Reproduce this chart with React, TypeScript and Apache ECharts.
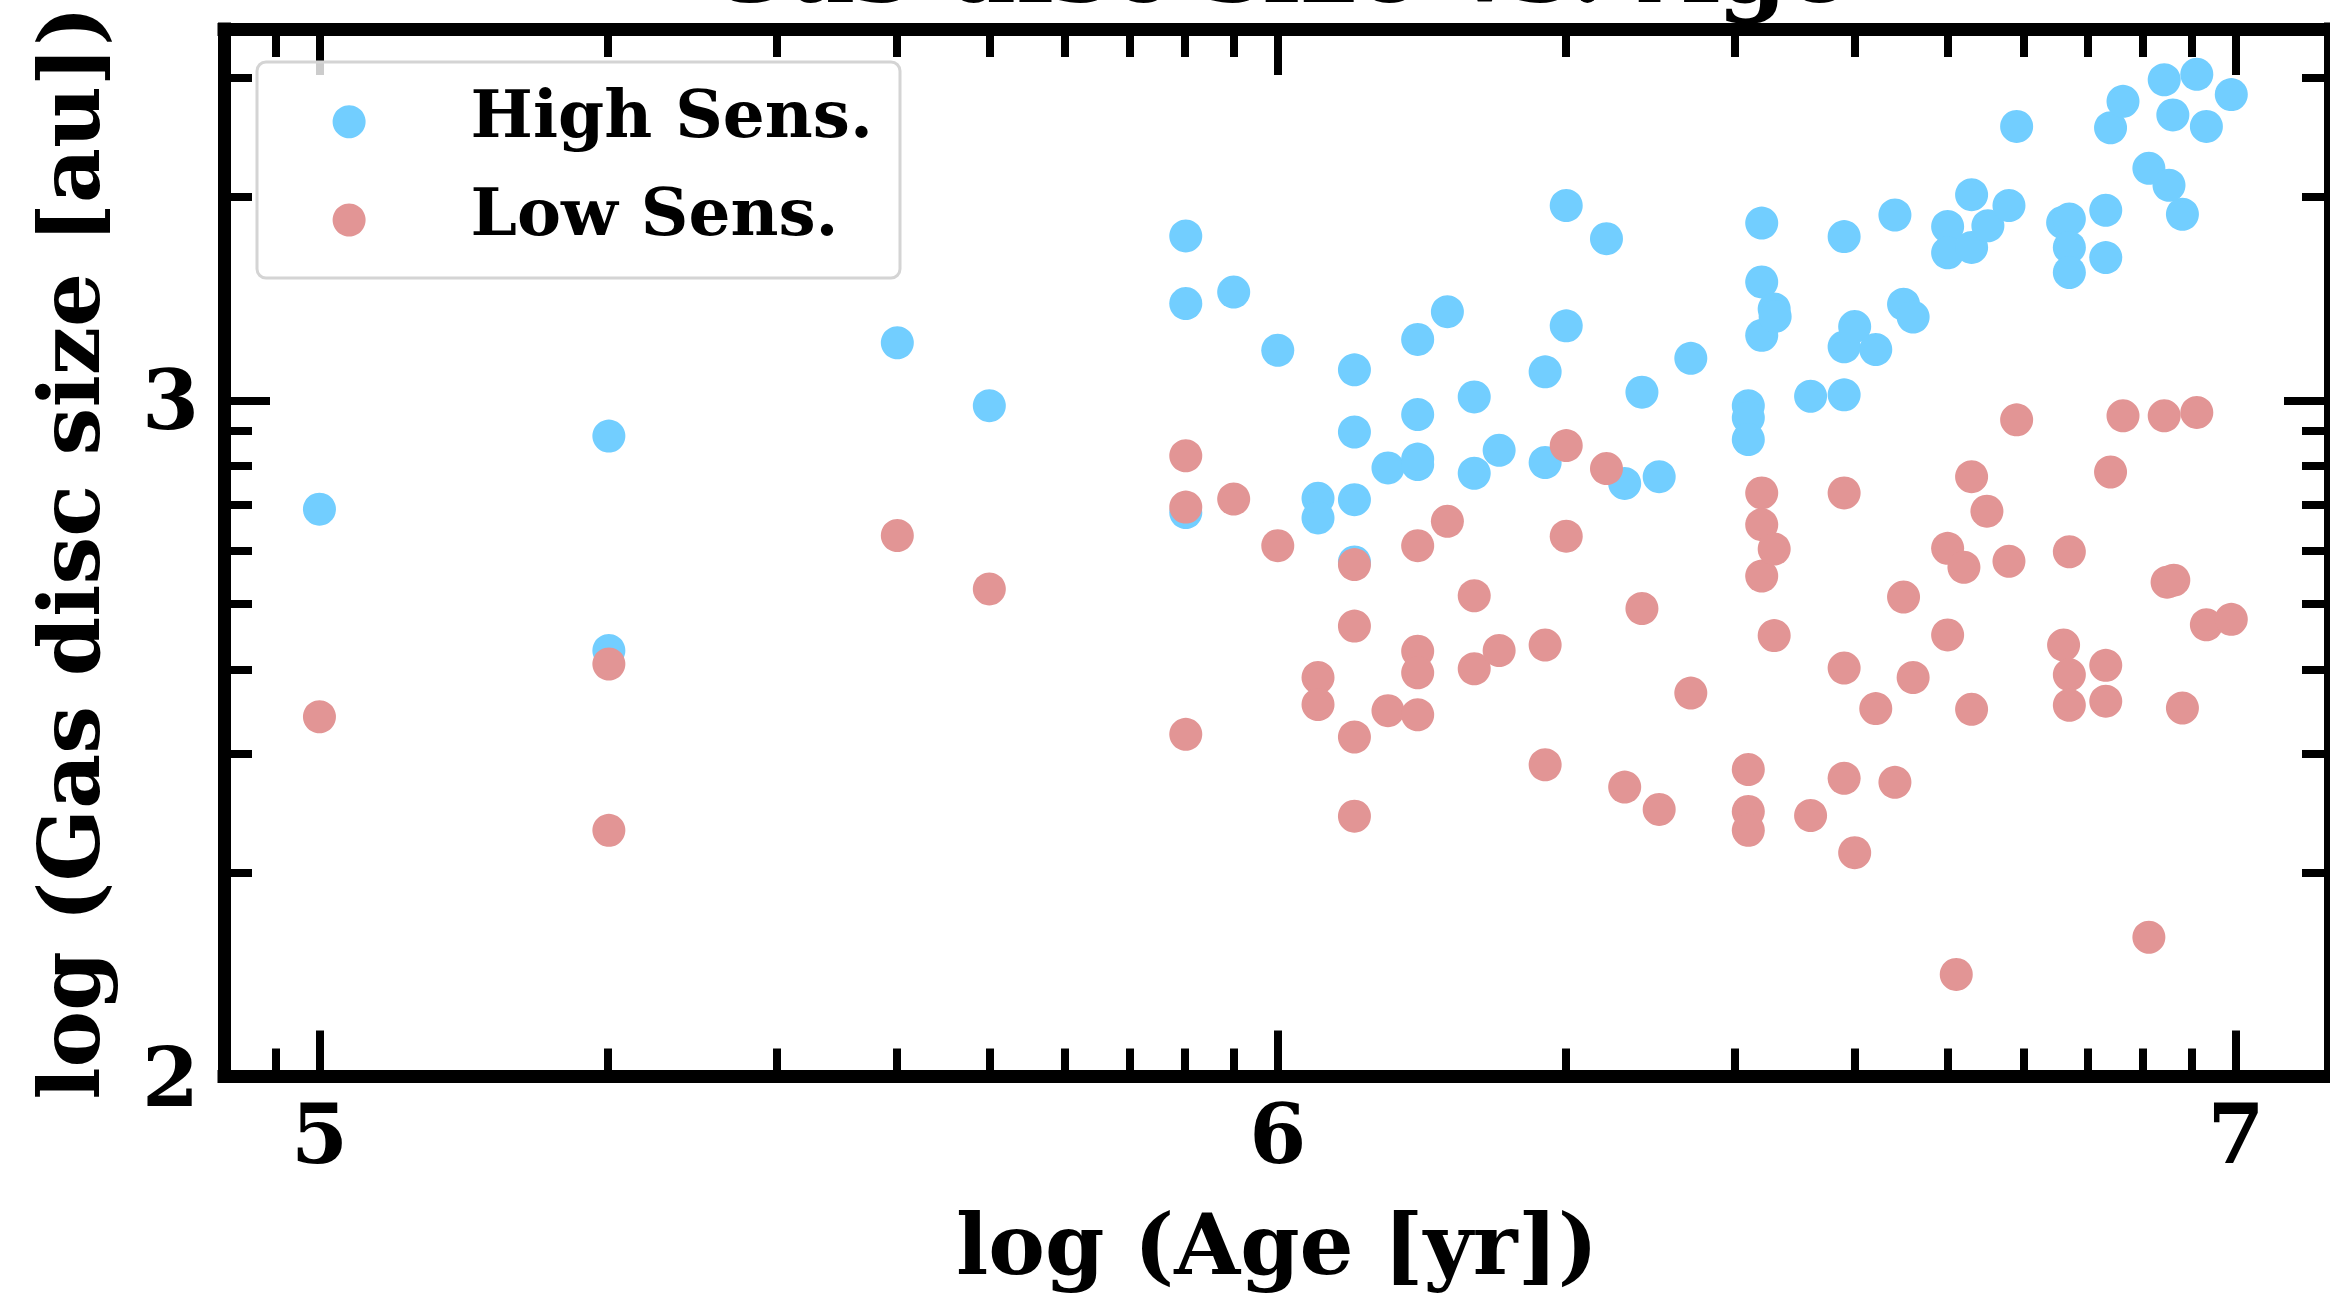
import React, { useEffect, useRef } from "react";
import * as echarts from "echarts";

// log10(Age [yr]), log10(Gas disc size [au])
const highSens: [number, number][] = [
  [5.0, 2.839], [5.302, 2.947], [5.302, 2.63], [5.603, 3.085], [5.699, 2.992],
  [5.904, 3.243], [5.904, 3.143], [5.904, 2.834], [5.954, 3.16], [6.0, 3.074],
  [6.042, 2.855], [6.042, 2.826], [6.08, 3.045], [6.08, 2.953], [6.08, 2.853],
  [6.08, 2.761], [6.115, 2.9], [6.146, 3.09], [6.146, 2.979], [6.146, 2.913],
  [6.146, 2.905], [6.177, 3.131], [6.205, 3.005], [6.205, 2.892], [6.231, 2.926],
  [6.279, 3.042], [6.279, 2.908], [6.301, 3.288], [6.301, 3.11], [6.343, 3.239],
  [6.362, 2.877], [6.38, 3.012], [6.398, 2.887], [6.431, 3.062], [6.491, 2.992],
  [6.491, 2.974], [6.491, 2.942], [6.505, 3.262], [6.505, 3.175], [6.505, 3.096],
  [6.518, 3.135], [6.519, 3.124], [6.556, 3.006], [6.591, 3.242], [6.591, 3.079],
  [6.591, 3.008], [6.602, 3.109], [6.624, 3.075], [6.644, 3.274], [6.653, 3.142],
  [6.663, 3.123], [6.699, 3.257], [6.699, 3.218], [6.724, 3.304], [6.724, 3.226],
  [6.741, 3.258], [6.763, 3.288], [6.771, 3.405], [6.819, 3.263], [6.826, 3.268],
  [6.826, 3.226], [6.826, 3.189], [6.864, 3.281], [6.864, 3.211], [6.869, 3.403],
  [6.882, 3.442], [6.909, 3.343], [6.93, 3.318], [6.944, 3.275], [6.925, 3.474],
  [6.959, 3.482], [6.934, 3.422], [6.969, 3.405], [6.995, 3.452],
];

const lowSens: [number, number][] = [
  [5.0, 2.532], [5.302, 2.61], [5.302, 2.364], [5.603, 2.8], [5.699, 2.721],
  [5.904, 2.918], [5.904, 2.842], [5.904, 2.506], [5.954, 2.854], [6.0, 2.785],
  [6.042, 2.59], [6.042, 2.55], [6.08, 2.757], [6.08, 2.666], [6.08, 2.502],
  [6.08, 2.385], [6.115, 2.541], [6.146, 2.785], [6.146, 2.629], [6.146, 2.597],
  [6.146, 2.535], [6.177, 2.821], [6.205, 2.711], [6.205, 2.603], [6.231, 2.63],
  [6.279, 2.638], [6.279, 2.461], [6.301, 2.933], [6.301, 2.799], [6.343, 2.899],
  [6.362, 2.428], [6.38, 2.692], [6.398, 2.395], [6.431, 2.567], [6.491, 2.454],
  [6.491, 2.392], [6.491, 2.364], [6.505, 2.863], [6.505, 2.816], [6.505, 2.74],
  [6.518, 2.78], [6.518, 2.652], [6.556, 2.386], [6.591, 2.863], [6.591, 2.604],
  [6.591, 2.441], [6.602, 2.331], [6.624, 2.544], [6.644, 2.435], [6.653, 2.709],
  [6.663, 2.59], [6.699, 2.781], [6.699, 2.653], [6.708, 2.151], [6.716, 2.753],
  [6.724, 2.887], [6.724, 2.543], [6.74, 2.836], [6.763, 2.762], [6.771, 2.971],
  [6.82, 2.638], [6.826, 2.776], [6.826, 2.594], [6.826, 2.549], [6.864, 2.608],
  [6.864, 2.555], [6.869, 2.894], [6.882, 2.977], [6.909, 2.206], [6.925, 2.977],
  [6.928, 2.731], [6.935, 2.734], [6.944, 2.545], [6.959, 2.982], [6.969, 2.668],
  [6.995, 2.676],
];

const seriesNames = ["High Sens.", "Low Sens."];
const titleText = "Gas disc size vs. Age";
const xName = "log (Age [yr])";
const yName = "log (Gas disc size [au])";

const xMajorTicks = [5, 6, 7];
const yMajorTicks = [2, 3];
const xDecades = [4, 5, 6, 7];
const yDecades = [2, 3];
const minorMultipliers = [2, 3, 4, 5, 6, 7, 8, 9];

const X_MIN = 4.9004;
const X_MAX = 7.098;
const Y_MIN = 2.0;
const Y_MAX = 3.549;

const FONT = "DejaVu Serif";
const BLUE = "#72CEFF";
const PINK = "#E29595";

function minorTicks(decades: number[], lo: number, hi: number): number[] {
  const out: number[] = [];
  decades.forEach((d) =>
    minorMultipliers.forEach((m) => {
      const v = d + Math.log10(m);
      if (v > lo && v < hi) out.push(v);
    })
  );
  return out;
}

const xMinorTicks = minorTicks(xDecades, X_MIN, X_MAX);
const yMinorTicks = minorTicks(yDecades, Y_MIN, Y_MAX);

const SPINE_W = 13;
const TICK_W = 8;
const MAJOR_LEN = 46;
const MINOR_LEN = 28;

function axis(
  position: string,
  min: number,
  max: number,
  ticks: number[],
  len: number,
  opts: { line?: boolean; labels?: boolean; labelMargin?: number; name?: string; nameGap?: number }
) {
  return {
    type: "value",
    position,
    min,
    max,
    splitLine: { show: false },
    axisLine: {
      show: !!opts.line,
      onZero: false,
      lineStyle: { color: "#000", width: SPINE_W, cap: "square" },
    },
    axisTick: {
      show: true,
      inside: true,
      length: len,
      customValues: ticks,
      lineStyle: { color: "#000", width: TICK_W },
    },
    axisLabel: opts.labels
      ? {
          show: true,
          customValues: ticks,
          margin: opts.labelMargin,
          fontFamily: FONT,
          fontWeight: "bold",
          fontSize: 82,
          color: "#000",
        }
      : { show: false },
    name: opts.name,
    nameLocation: "middle",
    nameGap: opts.nameGap,
    nameTextStyle: { fontFamily: FONT, fontWeight: "bold", fontSize: 85, color: "#000" },
  };
}

export default function App() {
  const ref = useRef<HTMLDivElement>(null);
  useEffect(() => {
    if (!ref.current) return;
    const chart = echarts.init(ref.current, undefined, { renderer: "svg" });
    chart.setOption({
      animation: false,
      backgroundColor: "#fff",
      grid: { left: 224, right: -1.5, top: 29, bottom: 216.5, containLabel: false },
      xAxis: [
        axis("bottom", X_MIN, X_MAX, xMajorTicks, MAJOR_LEN, { line: true, labels: true, labelMargin: 16, name: xName, nameGap: 125 }),
        axis("bottom", X_MIN, X_MAX, xMinorTicks, MINOR_LEN, {}),
        axis("top", X_MIN, X_MAX, xMajorTicks, MAJOR_LEN, { line: true }),
        axis("top", X_MIN, X_MAX, xMinorTicks, MINOR_LEN, {}),
      ],
      yAxis: [
        axis("left", Y_MIN, Y_MAX, yMajorTicks, MAJOR_LEN, { line: true, labels: true, labelMargin: 25, name: yName, nameGap: 113 }),
        axis("left", Y_MIN, Y_MAX, yMinorTicks, MINOR_LEN, {}),
        axis("right", Y_MIN, Y_MAX, yMajorTicks, MAJOR_LEN, { line: true }),
        axis("right", Y_MIN, Y_MAX, yMinorTicks, MINOR_LEN, {}),
      ],
      legend: {
        orient: "vertical",
        left: 332.6,
        top: 80.7,
        padding: 0,
        itemGap: 16.3,
        itemWidth: 233,
        itemHeight: 33,
        icon: "circle",
        z: 110,
        data: seriesNames,
        formatter: "{a|{name}}",
        textStyle: {
          fontFamily: FONT,
          fontWeight: "bold",
          fontSize: 66,
          color: "#000",
          rich: {
            a: {
              fontFamily: FONT,
              fontWeight: "bold",
              fontSize: 66,
              lineHeight: 66,
              color: "#000",
              padding: [0, 0, 16, 0],
            },
          },
        },
      },
      graphic: [
        {
          type: "rect",
          z: 100,
          shape: { x: 257, y: 62, width: 643, height: 216, r: 9 },
          style: { fill: "rgba(255,255,255,0.8)", stroke: "#d4d4d4", lineWidth: 3 },
        },
        {
          type: "text",
          z: 100,
          x: 1277.75,
          y: -32.6,
          style: {
            text: titleText,
            fontFamily: FONT,
            fontWeight: "bold",
            fontSize: 100,
            fill: "#000",
            align: "center",
            verticalAlign: "middle",
          },
        },
      ],
      series: [
        {
          name: seriesNames[0],
          type: "scatter",
          data: highSens,
          symbol: "circle",
          symbolSize: 33,
          itemStyle: { color: BLUE, opacity: 1 },
          z: 2,
        },
        {
          name: seriesNames[1],
          type: "scatter",
          data: lowSens,
          symbol: "circle",
          symbolSize: 33,
          itemStyle: { color: PINK, opacity: 1 },
          z: 3,
        },
      ],
    });
    return () => chart.dispose();
  }, []);
  return (
    <div
      ref={ref}
      style={{ position: "absolute", left: 0, top: 0, width: 2330, height: 1293 }}
    />
  );
}
